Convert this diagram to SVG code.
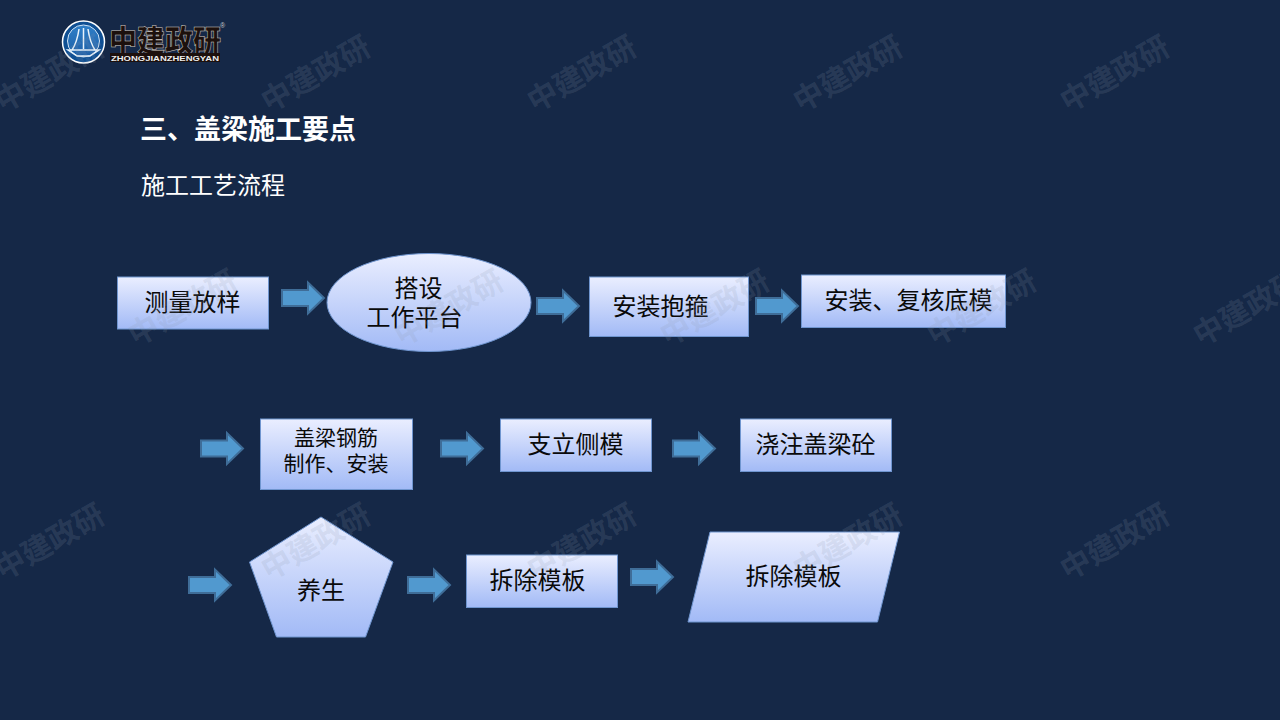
<svg xmlns="http://www.w3.org/2000/svg" width="1280" height="720" viewBox="0 0 1280 720">
<style>
text{font-family:"Noto Sans CJK SC","Liberation Sans",sans-serif}
.n{fill:url(#g);stroke:#6f95cf;stroke-width:1}
.t{font-size:24px;fill:#0a0a0a;text-anchor:middle}
.s{font-size:21px;fill:#0a0a0a;text-anchor:middle}
.wm{font-size:30px;font-weight:700;fill:#8d99ad;fill-opacity:.18;text-anchor:middle}
.a{fill:#5199cf;stroke:#3f6d98;stroke-width:2}
</style>
<defs>
<linearGradient id="g" x1="0" y1="0" x2="0" y2="1"><stop offset="0" stop-color="#eaeeff"/><stop offset="1" stop-color="#a2baf6"/></linearGradient>
<path id="ar" d="M1,-8H27V-15.500L43,0L27,15.500V8H1Z"/>
<linearGradient id="lg" x1="0" y1="0" x2="0" y2="1"><stop offset="0" stop-color="#2f7fc8"/><stop offset="1" stop-color="#1d5ea6"/></linearGradient>
</defs>
<rect id="background" width="1280" height="720" fill="#152847"/>
<g id="logo">
<circle cx="83.500" cy="42" r="21" fill="#0f4f93" stroke="#fff" stroke-width="1.500"/>
<circle cx="83.500" cy="41" r="16" fill="url(#lg)" stroke="#cfe3f5" stroke-width="1"/>
<path d="M72,50C76,44 78,36 79,29M95,50C91,44 89,36 88,29M83.500,28V49M68,50H99L90,56H77Z" fill="none" stroke="#e8f2fb" stroke-width="1.500"/>
<text x="109" y="51" font-size="30" font-weight="900" fill="#1c100d" stroke="#d8d0c8" stroke-width=".5" textLength="112" lengthAdjust="spacingAndGlyphs">中建政研</text>
<rect x="110" y="53" width="110" height="9" fill="#1c100d"/>
<text x="111" y="60.500" style="font-family:'Liberation Sans',sans-serif" font-size="7.500" font-weight="700" fill="#eee" textLength="108" lengthAdjust="spacingAndGlyphs">ZHONGJIANZHENGYAN</text>
<text x="220" y="28" style="font-family:'Liberation Sans',sans-serif" font-size="7" fill="#ccc">®</text>
</g>
<text x="140" y="139" font-size="27" font-weight="700" fill="#fff">三、盖梁施工要点</text>
<text x="141" y="193.500" font-size="24" fill="#fff">施工工艺流程</text>
<g id="connectors" class="a">
<use href="#ar" x="281" y="298"/>
<use href="#ar" x="536" y="306"/>
<use href="#ar" x="755" y="306"/>
<use href="#ar" x="200" y="448.500"/>
<use href="#ar" x="440" y="448.500"/>
<use href="#ar" x="672" y="448.500"/>
<use href="#ar" x="188" y="585"/>
<use href="#ar" x="407" y="585"/>
<use href="#ar" x="630" y="577"/>
</g>
<g id="n1"><rect class="n" x="117.500" y="277" width="151" height="52"/><text class="t" x="192.500" y="311">测量放样</text></g>
<g id="n2"><ellipse class="n" cx="429" cy="302.500" rx="102" ry="49"/><text class="t" x="418.500" y="297">搭设</text><text class="t" x="414.500" y="326">工作平台</text></g>
<g id="n3"><rect class="n" x="589.500" y="277" width="159" height="59.500"/><text class="t" x="660.500" y="315">安装抱箍</text></g>
<g id="n4"><rect class="n" x="801.500" y="275" width="204" height="52.500"/><text class="t" x="908.500" y="309">安装、复核底模</text></g>
<g id="n5"><rect class="n" x="260.500" y="419" width="152" height="70.500"/><text class="s" x="336" y="445">盖梁钢筋</text><text class="s" x="336" y="471">制作、安装</text></g>
<g id="n6"><rect class="n" x="500.500" y="419" width="151" height="52.500"/><text class="t" x="575.500" y="453">支立侧模</text></g>
<g id="n7"><rect class="n" x="740.500" y="419" width="151" height="52.500"/><text class="t" x="815.500" y="453">浇注盖梁砼</text></g>
<g id="n8"><path class="n" d="M321,517L393,562L365.500,637H276.500L249.500,562Z"/><text class="t" x="321" y="599">养生</text></g>
<g id="n9"><rect class="n" x="466.500" y="555" width="151" height="52.500"/><text class="t" x="537.500" y="589">拆除模板</text></g>
<g id="n10"><path class="n" d="M710,532H899.500L877.500,622H688Z"/><text class="t" x="793.500" y="585">拆除模板</text></g>
<g id="watermarks">
<text class="wm" transform="translate(55,83) rotate(-30)">中建政研</text>
<text class="wm" transform="translate(321,83) rotate(-30)">中建政研</text>
<text class="wm" transform="translate(587,83) rotate(-30)">中建政研</text>
<text class="wm" transform="translate(853,83) rotate(-30)">中建政研</text>
<text class="wm" transform="translate(1120,83) rotate(-30)">中建政研</text>
<text class="wm" transform="translate(188,317) rotate(-30)">中建政研</text>
<text class="wm" transform="translate(454,317) rotate(-30)">中建政研</text>
<text class="wm" transform="translate(720,317) rotate(-30)">中建政研</text>
<text class="wm" transform="translate(987,317) rotate(-30)">中建政研</text>
<text class="wm" transform="translate(1253,317) rotate(-30)">中建政研</text>
<text class="wm" transform="translate(55,551) rotate(-30)">中建政研</text>
<text class="wm" transform="translate(321,551) rotate(-30)">中建政研</text>
<text class="wm" transform="translate(587,551) rotate(-30)">中建政研</text>
<text class="wm" transform="translate(853,551) rotate(-30)">中建政研</text>
<text class="wm" transform="translate(1120,551) rotate(-30)">中建政研</text>
</g>
</svg>
